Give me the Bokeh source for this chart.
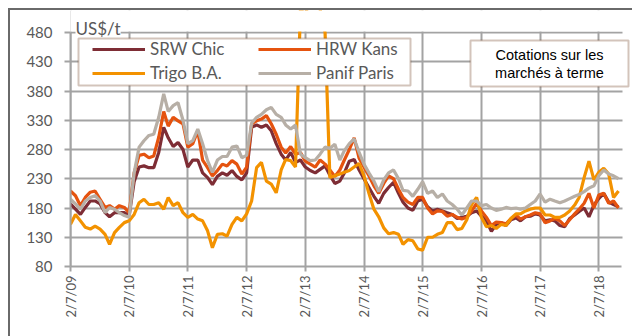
import math
from datetime import datetime
import pandas as pd
from bokeh.plotting import figure
from bokeh.models import (ColumnDataSource, FixedTicker, Legend, LegendItem, BoxAnnotation,
                          Label, CustomJSTickFormatter, Range1d)
from bokeh.embed import file_html
from bokeh.resources import INLINE

# monthly points, July 2009 -> November 2018
months = pd.date_range("2009-07-01", periods=113, freq="MS")

srw_chic = [187, 178, 169, 181, 192, 192, 187, 172, 165, 172, 172, 172,
            167, 225, 250, 252, 249, 249, 275, 318, 300, 285, 292, 280,
            250, 262, 262, 240, 232, 220, 234, 240, 236, 244, 234, 228,
            240, 318, 322, 318, 322, 312, 290, 272, 262, 275, 258, 262,
            250, 244, 240, 246, 252, 236, 222, 226, 240, 260, 263, 245,
            230, 215, 200, 188, 205, 215, 224, 205, 190, 180, 176, 192,
            195, 182, 175, 178, 175, 172, 169, 162, 164, 166, 172, 175,
            166, 158, 140, 152, 155, 150, 160, 163, 158, 165, 166, 170,
            168, 158, 160, 158, 150, 148, 162, 168, 174, 180, 165, 185,
            196, 205, 190, 186, 182]

hrw_kans = [209, 201, 184, 198, 207, 209, 195, 181, 184, 178, 184, 181,
            172, 240, 270, 272, 266, 269, 301, 345, 320, 335, 329, 324,
            284, 290, 312, 262, 249, 235, 244, 255, 252, 261, 255, 238,
            250, 324, 329, 332, 338, 324, 306, 284, 274, 285, 272, 275,
            260, 255, 250, 262, 255, 245, 234, 245, 262, 280, 300, 265,
            250, 235, 218, 205, 222, 235, 230, 212, 198, 190, 186, 198,
            198, 180, 170, 175, 174, 166, 169, 164, 161, 164, 175, 188,
            175, 164, 150, 156, 155, 153, 162, 168, 161, 165, 168, 172,
            170, 155, 158, 162, 158, 150, 160, 170, 178, 188, 205, 180,
            202, 205, 188, 192, 180]

trigo_ba = [152, 169, 158, 147, 144, 149, 144, 135, 118, 138, 147, 155,
            158, 169, 189, 195, 186, 186, 189, 178, 198, 184, 189, 172,
            164, 169, 161, 158, 141, 112, 135, 136, 132, 152, 164, 158,
            170, 192, 249, 258, 226, 221, 206, 245, 263, 261, 250, 520,
            510, 540, 530, 520, 480, 232, 235, 238, 241, 244, 250, 256,
            235, 205, 178, 165, 146, 136, 138, 135, 118, 126, 124, 110,
            108, 130, 130, 135, 138, 155, 155, 143, 145, 160, 186, 198,
            164, 148, 150, 145, 152, 150, 162, 170, 170, 175, 178, 180,
            180, 168, 168, 164, 164, 168, 175, 185, 198, 232, 260, 228,
            241, 248, 238, 198, 209]

panif_paris = [195, 187, 178, 192, 198, 201, 192, 172, 181, 178, 172, 167,
               164, 240, 284, 295, 304, 306, 335, 375, 345, 355, 360, 330,
               290, 295, 315, 290, 261, 241, 262, 268, 268, 284, 286, 266,
               270, 325, 335, 340, 348, 352, 340, 335, 322, 315, 322, 272,
               266, 261, 262, 272, 284, 282, 289, 262, 278, 290, 298, 275,
               255, 240, 226, 208, 228, 240, 245, 230, 210, 209, 200, 212,
               225, 205, 209, 198, 204, 192, 186, 178, 168, 180, 192, 192,
               184, 186, 180, 176, 178, 181, 179, 180, 178, 180, 186, 192,
               204, 190, 195, 192, 189, 192, 196, 200, 203, 208, 214, 218,
               235, 245, 238, 235, 230]

series_names = ["SRW Chic", "HRW Kans", "Trigo B.A.", "Panif Paris"]
series_colors = ["#7e2d35", "#e5530f", "#f39200", "#b7afa6"]

tick_dates = ["2009-07-02", "2010-07-02", "2011-07-02", "2012-07-02", "2013-07-02",
              "2014-07-02", "2015-07-02", "2016-07-02", "2017-07-02", "2018-07-02"]
tick_labels = ["2/7/09", "2/7/10", "2/7/11", "2/7/12", "2/7/13",
               "2/7/14", "2/7/15", "2/7/16", "2/7/17", "2/7/18"]
y_ticks = [80, 130, 180, 230, 280, 330, 380, 430, 480]

tick_ms = [pd.Timestamp(d).value / 1e6 for d in tick_dates]

src = ColumnDataSource(dict(date=months, srw=srw_chic, hrw=hrw_kans,
                            trigo=trigo_ba, panif=panif_paris))

# value axis 80..480 spans 234 px; the frame reaches 22 px higher and 11 px further right
y_top = 480 + 22 * 400 / 234
x_end = datetime(2019, 1, 27)
x_axis_end = datetime(2018, 11, 20)

p = figure(width=632, height=336, x_axis_type="datetime", output_backend="svg",
           toolbar_location=None,
           x_range=Range1d(datetime(2009, 7, 1), x_end),
           y_range=Range1d(80, y_top),
           min_border_left=70, min_border_right=0, min_border_top=10, min_border_bottom=70)
p.background_fill_color = "white"
p.border_fill_color = None
p.outline_line_color = None
edge = "#6a6a6a"
p.styles = {"background": (f"linear-gradient({edge},{edge}) 8px 8px / 2px 100% no-repeat, "
                           f"linear-gradient({edge},{edge}) 8px 8px / 100% 2px no-repeat, white")}

grid_col = "#a3a3a3"
p.xaxis.ticker = FixedTicker(ticks=tick_ms)
p.yaxis.ticker = FixedTicker(ticks=y_ticks)
p.xaxis.formatter = CustomJSTickFormatter(args=dict(tvals=tick_ms, tlabels=tick_labels), code="""
let best = 0;
for (let k = 0; k < tvals.length; k++) {
  if (Math.abs(tvals[k] - tick) < Math.abs(tvals[best] - tick)) best = k;
}
return tlabels[best];
""")
p.xaxis.bounds = (datetime(2009, 7, 1), x_axis_end)
p.yaxis.bounds = (80, 480)
for ax in (p.xaxis[0], p.yaxis[0]):
    ax.axis_line_color = grid_col
    ax.axis_line_width = 2
    ax.major_tick_line_color = grid_col
    ax.major_tick_line_width = 2
    ax.major_tick_in = 0
    ax.minor_tick_line_color = None
    ax.major_label_text_font = "Lato"
    ax.major_label_text_color = "#595959"
p.yaxis.major_tick_out = 6
p.yaxis.major_label_standoff = 12
p.yaxis.major_label_text_font_size = "15px"
p.xaxis.major_tick_out = 5
p.xaxis.major_label_standoff = 4
p.xaxis.major_label_text_font_size = "13px"
p.xaxis.major_label_orientation = math.pi / 2

p.xgrid.grid_line_color = grid_col
p.xgrid.grid_line_width = 2
p.ygrid.grid_line_color = grid_col
p.ygrid.grid_line_width = 2

keys = ["srw", "hrw", "trigo", "panif"]
rends = {}
for key, name, col in zip(keys, series_names, series_colors):
    rends[key] = p.line("date", key, source=src, line_color=col, line_width=3.2)

def canvas_box(l, r, t, b, **kw):
    return BoxAnnotation(left=l, right=r, top=t, bottom=b,
                         left_units="canvas", right_units="canvas",
                         top_units="canvas", bottom_units="canvas", **kw)

# white masks: above the 480 line and right of the plotting area
p.add_layout(canvas_box(60, 632, 10, 31, fill_color="white", fill_alpha=1, line_alpha=0))
p.add_layout(canvas_box(622, 632, 10, 267, fill_color="white", fill_alpha=1, line_alpha=0))

p.add_layout(Label(x=75, y=28, x_units="canvas", y_units="canvas", text="US$/t",
                   text_font="Lato", text_font_size="17px", text_color="#595959",
                   text_baseline="middle", background_fill_color="white"))

brown = "#6e3a1f"
p.add_layout(canvas_box(78, 410, 38, 85, fill_color="white", fill_alpha=1,
                        line_color=brown, line_width=2))

def make_legend(items, loc):
    return Legend(items=items, location=loc, orientation="vertical",
                  border_line_alpha=0, background_fill_alpha=0, padding=0, margin=0,
                  spacing=3, glyph_width=53, glyph_height=20, label_height=20,
                  label_standoff=5, label_text_font="Lato", label_text_font_size="17px",
                  label_text_color="#595959")

leg1 = make_legend([LegendItem(label=series_names[0], renderers=[rends["srw"]]),
                    LegendItem(label=series_names[2], renderers=[rends["trigo"]])], (22, 183))
leg2 = make_legend([LegendItem(label=series_names[1], renderers=[rends["hrw"]]),
                    LegendItem(label=series_names[3], renderers=[rends["panif"]])], (188, 183))
p.add_layout(leg1)
p.add_layout(leg2)

p.add_layout(canvas_box(470, 628, 40, 86, fill_color="white", fill_alpha=1,
                        line_color=brown, line_width=2))
for txt, yy in (("Cotations sur les", 54), ("marchés à terme", 72)):
    p.add_layout(Label(x=549, y=yy, x_units="canvas", y_units="canvas", text=txt,
                       text_font="Liberation Sans", text_font_size="14.5px", text_color="black",
                       text_align="center", text_baseline="middle"))

open("out.html", "w").write(file_html(p, INLINE))
